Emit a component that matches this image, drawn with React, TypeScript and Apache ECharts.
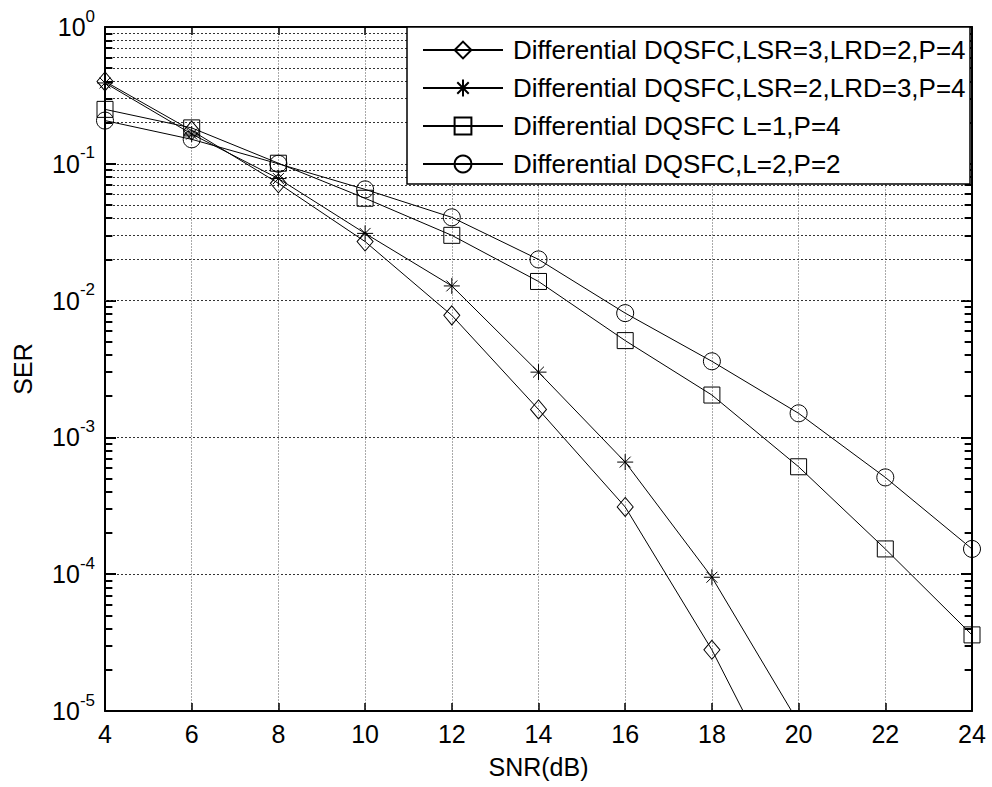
import React, { useEffect, useRef } from "react";
import * as echarts from "echarts";

const snr = [4, 6, 8, 10, 12, 14, 16, 18, 20, 22, 24];
const serLsr3Lrd2 = [0.4, 0.175, 0.072, 0.027, 0.0078, 0.0016, 3.1e-4, 2.8e-5, 1.6e-6];
const serLsr2Lrd3 = [0.39, 0.165, 0.078, 0.031, 0.0128, 0.003, 6.6e-4, 9.5e-5, 8.2e-6];
const serL1P4 = [0.25, 0.183, 0.101, 0.056, 0.03, 0.0138, 5.1e-3, 2.04e-3, 6.1e-4, 1.53e-4, 3.6e-5];
const serL2P2 = [0.207, 0.151, 0.1, 0.065, 0.0406, 0.02, 8.1e-3, 3.6e-3, 1.5e-3, 5.1e-4, 1.53e-4];
const seriesNames = [
  "Differential DQSFC,LSR=3,LRD=2,P=4",
  "Differential DQSFC,LSR=2,LRD=3,P=4",
  "Differential DQSFC L=1,P=4",
  "Differential DQSFC,L=2,P=2",
];
const decadeExps = [-5, -4, -3, -2, -1];
const minorMultipliers = [2, 3, 4, 5, 6, 7, 8, 9];

const FONT = "'Liberation Sans', Arial, sans-serif";
const STAR = "path://M5 0L5 10M0 5L10 5M1.6 1.6L8.4 8.4M1.6 8.4L8.4 1.6";

export default function App() {
  const ref = useRef<HTMLDivElement>(null);
  useEffect(() => {
    if (!ref.current) return;
    const chart = echarts.init(ref.current, null, { renderer: "svg" });

    const minorVals: number[] = [];
    decadeExps.forEach((e) => minorMultipliers.forEach((m) => minorVals.push(m * Math.pow(10, e))));

    const tickLen = 0.17;
    const markData: any[] = [];
    minorVals.forEach((v) => {
      markData.push({ yAxis: v, lineStyle: { color: "#333", width: 1, type: [2, 2] } });
    });
    minorVals.forEach((v) => {
      markData.push([
        { coord: [4, v], lineStyle: { color: "#000", width: 2, type: "solid" } },
        { coord: [4 + tickLen, v] },
      ]);
      markData.push([
        { coord: [24 - tickLen, v], lineStyle: { color: "#000", width: 2, type: "solid" } },
        { coord: [24, v] },
      ]);
    });

    const mk = (name: string, vals: number[], symbol: string, size: any, extra: any = {}) => ({
      name,
      type: "line",
      data: vals.map((v, i) => [snr[i], v]),
      symbol,
      symbolSize: size,
      showAllSymbol: true,
      clip: true,
      z: 5,
      lineStyle: { color: "#000", width: 1 },
      itemStyle: { color: "rgba(0,0,0,0)", borderColor: "#000", borderWidth: 1 },
      emphasis: { disabled: true },
      ...extra,
    });

    const axisLine = { show: true, onZero: false, lineStyle: { color: "#000", width: 2 } };

    chart.setOption({
      animation: false,
      textStyle: { fontFamily: FONT },
      grid: { left: 105, right: 20, top: 27, bottom: 76, containLabel: false },
      xAxis: [
        {
          type: "value",
          min: 4,
          max: 24,
          interval: 2,
          position: "bottom",
          axisLine,
          axisTick: { show: true, inside: true, length: 8, lineStyle: { color: "#000", width: 1.5 } },
          axisLabel: { fontSize: 25, color: "#000", margin: 10, fontFamily: FONT },
          splitLine: { show: true, lineStyle: { color: "#aaa", width: 1, type: [2, 1] } },
          name: "SNR(dB)",
          nameLocation: "middle",
          nameGap: 43,
          nameTextStyle: { fontSize: 25, color: "#000", fontFamily: FONT },
        },
        {
          type: "value",
          min: 4,
          max: 24,
          interval: 2,
          position: "top",
          axisLine,
          axisTick: { show: true, inside: true, length: 8, lineStyle: { color: "#000", width: 1.5 } },
          axisLabel: { show: false },
          splitLine: { show: false },
        },
      ],
      yAxis: [
        {
          type: "log",
          logBase: 10,
          min: 1e-5,
          max: 1,
          splitNumber: 5,
          position: "left",
          axisLine,
          axisTick: { show: true, inside: true, length: 11, lineStyle: { color: "#000", width: 2 } },
          axisLabel: {
            margin: 10,
            formatter: (v: number) => `{b|10}{e|${Math.round(Math.log10(v))}}`,
            rich: {
              b: { fontSize: 25, color: "#000", fontFamily: FONT },
              e: { fontSize: 17, color: "#000", fontFamily: FONT, padding: [0, 0, 22, 0] },
            },
          },
          splitLine: { show: true, lineStyle: { color: "#333", width: 1, type: [2, 2] } },
          name: "SER",
          nameLocation: "middle",
          nameGap: 70,
          nameRotate: 90,
          nameTextStyle: { fontSize: 25, color: "#000", fontFamily: FONT },
        },
        {
          type: "log",
          logBase: 10,
          min: 1e-5,
          max: 1,
          splitNumber: 5,
          position: "right",
          axisLine,
          axisTick: { show: true, inside: true, length: 11, lineStyle: { color: "#000", width: 2 } },
          axisLabel: { show: false },
          splitLine: { show: false },
        },
      ],
      legend: {
        orient: "vertical",
        left: 407,
        top: 27,
        padding: [10, 10, 10, 15],
        itemWidth: 80,
        itemHeight: 21,
        itemGap: 12,
        selectedMode: false,
        z: 10,
        textStyle: { fontSize: 26, color: "#000", fontFamily: FONT, padding: [0, 0, 0, 5] },
        data: seriesNames,
      },
      graphic: [
        {
          type: "rect",
          z: 8,
          shape: { x: 407, y: 27, width: 563, height: 157 },
          style: { fill: "#fff", stroke: "#000", lineWidth: 1.5 },
        },
      ],
      series: [
        mk(seriesNames[0], serLsr3Lrd2, "diamond", [16, 19], {
          markLine: {
            silent: true,
            symbol: ["none", "none"],
            label: { show: false },
            animation: false,
            z: 1,
            data: markData,
          },
        }),
        mk(seriesNames[1], serLsr2Lrd3, STAR, 16),
        mk(seriesNames[2], serL1P4, "rect", 16),
        mk(seriesNames[3], serL2P2, "circle", 17),
      ],
    });
    return () => chart.dispose();
  }, []);
  return <div ref={ref} style={{ width: 992, height: 787, position: "absolute", left: 0, top: 0, background: "#fff" }} />;
}
